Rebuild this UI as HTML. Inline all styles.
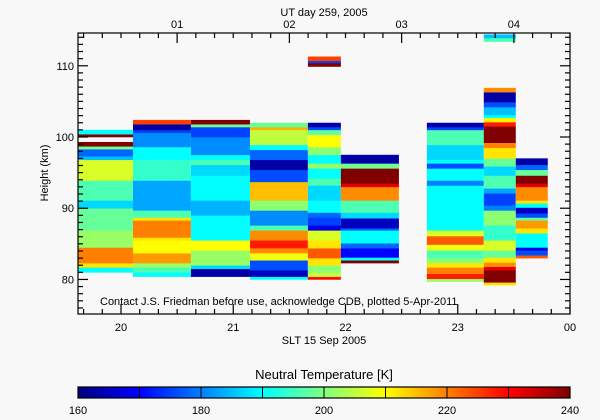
<!DOCTYPE html>
<html><head><meta charset="utf-8"><style>
body{margin:0;background:#f8f8f8;}
svg{display:block;font-family:"Liberation Sans",sans-serif;}
</style></head><body>
<svg id="c" width="600" height="420" viewBox="0 0 600 420">
<rect width="600" height="420" fill="#f8f8f8"/>
</svg>
<script>
// Column time spans (SLT hours)
const colStarts=[19.617,20.107,20.623,21.149,21.665,21.959,22.725,23.232,23.517];
const colEnds=[20.107,20.623,21.149,21.665,21.959,22.476,23.232,23.517,23.802];
// Cells per column: [heightBottom km, heightTop km, temperature K]
const col1=[[81.0,81.7,190],[81.7,82.3,212],[82.3,84.5,220],[84.5,86.9,202],[86.9,90,198],[90,91.1,187],[91.1,93.9,196],[93.9,96.8,207],[96.8,97.3,185],[97.3,98.3,178],[98.3,98.7,199],[98.7,99.3,240],[100.0,100.4,240],[100.4,101.0,190]];
const col2=[[80.4,81.0,190],[81.0,81.7,196],[81.7,82.3,202],[82.3,83.7,218],[83.7,85.5,210],[85.5,85.9,212],[85.9,88.3,220],[88.3,88.7,212],[88.7,89.7,196],[89.7,93.9,183],[93.9,96.8,194],[96.8,98.6,190],[98.6,100.6,181],[100.6,101.0,175],[101.0,101.8,163],[101.8,102.4,225]];
const col3=[[80.4,81.5,163],[81.5,82.0,187],[82.0,84.1,202],[84.1,85.5,210],[85.5,89.0,190],[89.0,91.1,184],[91.1,94.6,190],[94.6,96.1,187],[96.1,96.8,196],[96.8,97.5,190],[97.5,100.0,181],[100.0,101.4,175],[101.4,101.8,199],[101.8,102.4,240]];
const col4=[[80.0,80.4,190],[80.4,81.3,165],[81.3,82.7,176],[82.7,83.7,209],[83.7,84.4,219],[84.4,85.5,228],[85.5,86.9,219],[86.9,87.6,196],[87.6,89.7,181],[89.7,91.1,201],[91.1,93.7,215],[93.7,95.4,176],[95.4,96.8,163],[96.8,98.2,178],[98.2,98.9,190],[98.9,101.0,205],[101.0,101.4,216],[101.4,102.0,198]];
const col5=[[80.0,80.4,229],[80.4,81.0,205],[81.0,82.0,201],[82.0,83.0,212],[83.0,84.4,223],[84.4,85.5,212],[85.5,86.9,207],[86.9,87.6,168],[87.6,88.7,175],[88.7,89.4,178],[89.4,91.1,190],[91.1,93.2,187],[93.2,94.2,196],[94.2,95.6,190],[95.6,96.3,202],[96.3,97.5,190],[97.5,98.6,201],[98.6,100.3,210],[100.3,101.0,198],[101.0,101.4,176],[101.4,102.0,163],[109.9,110.4,240],[110.4,110.7,175],[110.7,111.3,225]];
const col6=[[82.3,82.7,240],[82.7,83.1,190],[83.1,84.4,170],[84.4,85.1,178],[85.1,86.9,190],[86.9,87.2,178],[87.2,88.6,165],[88.6,89.4,187],[89.4,91.1,196],[91.1,93.0,219],[93.0,93.5,232],[93.5,95.6,240],[95.6,96.3,199],[96.3,97.5,163]];
const col7=[[79.7,80.1,202],[80.1,80.8,228],[80.8,81.7,220],[81.7,82.3,212],[82.3,83.0,201],[83.0,84.1,196],[84.1,84.9,209],[84.9,86.1,223],[86.1,86.9,207],[86.9,93.2,190],[93.2,93.9,180],[93.9,95.6,190],[95.6,96.3,176],[96.3,96.8,190],[96.8,98.9,187],[98.9,101.0,196],[101.0,101.4,175],[101.4,102.0,163]];
const col8=[[79.2,79.6,212],[79.6,81.3,240],[81.3,81.8,232],[81.8,82.4,219],[82.4,83.1,212],[83.1,84.1,198],[84.1,85.5,207],[85.5,87.6,194],[87.6,89.7,201],[89.7,90.4,180],[90.4,92.1,175],[92.1,92.8,183],[92.8,94.6,196],[94.6,95.9,187],[95.9,97.0,198],[97.0,98.5,212],[98.5,99.2,220],[99.2,101.5,240],[101.5,102.1,228],[102.1,102.7,211],[102.7,103.1,190],[103.1,104.2,185],[104.2,104.9,176],[104.9,106.3,163],[106.3,106.9,219],[113.4,113.9,196],[113.9,114.4,185]];
const col9=[[83.0,83.4,223],[83.4,84.1,176],[84.1,84.5,168],[84.5,86.5,190],[86.5,87.2,212],[87.2,88.3,218],[88.3,88.7,198],[88.7,89.3,176],[89.3,90.1,165],[90.1,90.7,190],[90.7,91.1,212],[91.1,93.0,219],[93.0,93.5,232],[93.5,94.6,240],[94.6,95.4,198],[95.4,96.1,178],[96.1,97.0,163]];
const columns=[col1,col2,col3,col4,col5,col6,col7,col8,col9];
const yTicks=[80,90,100,110];
const xTickLabels=['20','21','22','23','00'];
const xTickVals=[20,21,22,23,24];
const utTickLabels=['01','02','03','04'];
const utTickVals=[1,2,3,4];
const cbTicks=[160,180,200,220,240];

const X0=78,X1=570,Y0=33,Y1=314;
const xMin=19.617,xMax=24.0,hMin=75.15,hMax=114.6;
const tMin=160,tMax=240;
const sx=v=>X0+(v-xMin)/(xMax-xMin)*(X1-X0);
const sy=h=>Y1-(h-hMin)/(hMax-hMin)*(Y1-Y0);
const utOffset=19.5; // UT = SLT - 19.5 h
function jet(T){
  let t=Math.max(0,Math.min(1,(T-tMin)/(tMax-tMin)));
  const f=x=>Math.max(0,Math.min(1,x));
  const r=f(Math.min(4*t-1.5,-4*t+4.5)),g=f(Math.min(4*t-0.5,-4*t+3.5)),b=f(Math.min(4*t+0.5,-4*t+2.5));
  return `rgb(${Math.round(r*255)},${Math.round(g*255)},${Math.round(b*255)})`;
}
const NS='http://www.w3.org/2000/svg';
const svg=document.getElementById('c');
function mk(tag,at,parent){const e=document.createElementNS(NS,tag);for(const k in at)e.setAttribute(k,at[k]);(parent||svg).appendChild(e);return e;}

const cells=mk('g',{});


columns.forEach((col,i)=>{
  col.forEach(c=>{
    const y=sy(c[1]),h=sy(c[0])-sy(c[1]);
    const r=mk('rect',{x:sx(colStarts[i]).toFixed(2),y:y.toFixed(2),width:(sx(colEnds[i])-sx(colStarts[i])).toFixed(2),height:(h+0.3).toFixed(2),fill:jet(c[2])},cells);
    
    
  });
});

const ax=mk('g',{stroke:'#000','stroke-width':1.2,fill:'none'});


mk('rect',{x:X0,y:Y0,width:X1-X0,height:Y1-Y0},ax);
for(let h=76;h<=114;h++){
  const major=yTicks.includes(h),L=major?10:5,y=sy(h);
  mk('line',{x1:X0,y1:y,x2:X0+L,y2:y},ax);
  mk('line',{x1:X1,y1:y,x2:X1-L,y2:y},ax);
}
for(let m=Math.ceil(xMin*6);m<=xMax*6;m++){
  const v=m/6,major=m%6===0,x=sx(v),L=major?10:5;
  mk('line',{x1:x,y1:Y1,x2:x,y2:Y1-L},ax);
}
for(let m=Math.ceil((xMin-utOffset)*6);m<=(xMax-utOffset)*6;m++){
  const v=m/6+utOffset,major=m%6===0,x=sx(v),L=major?10:5;
  mk('line',{x1:x,y1:Y0,x2:x,y2:Y0+L},ax);
}
function txt(s,x,y,name,anchor,size){
  const t=mk('text',{x:x,y:y,'text-anchor':anchor||'middle','font-size':size||11,fill:'#000'});
  t.textContent=s;
  
  
  return t;
}
yTicks.forEach(h=>txt(String(h),X0-4,sy(h)+4,'y-tick-label','end'));
xTickVals.forEach((v,i)=>txt(xTickLabels[i],sx(v),331,'x-tick-label'));
utTickVals.forEach((v,i)=>txt(utTickLabels[i],sx(v+utOffset),28,'ut-tick-label'));
txt('UT day 259, 2005',324,16,'top-axis-title');
txt('SLT 15 Sep 2005',324,344,'x-axis-title');
const yt=txt('Height (km)',48,173,'y-axis-title','middle',11);
yt.setAttribute('transform','rotate(-90 48 173)');
txt('Contact J.S. Friedman before use, acknowledge CDB, plotted 5-Apr-2011',100,305,'credit-note','start',11);

const CB0=78,CB1=570,CBy=387,CBh=11;
const cb=mk('g',{});


const N=160;
for(let i=0;i<N;i++){
  const T=tMin+(i+0.5)/N*(tMax-tMin);
  mk('rect',{x:(CB0+i*(CB1-CB0)/N).toFixed(2),y:CBy,width:((CB1-CB0)/N+0.4).toFixed(2),height:CBh,fill:jet(T)},cb);
}
mk('rect',{x:CB0,y:CBy,width:CB1-CB0,height:CBh,fill:'none',stroke:'#000','stroke-width':1.2},cb);
const cbx=T=>CB0+(T-tMin)/(tMax-tMin)*(CB1-CB0);
for(let T=tMin+10;T<tMax;T+=10){mk('line',{x1:cbx(T),y1:CBy,x2:cbx(T),y2:CBy+CBh,stroke:'#000','stroke-width':1},cb);}
cbTicks.forEach(T=>txt(String(T),cbx(T),414,'colorbar-tick-label'));
txt('Neutral Temperature [K]',324,379,'colorbar-title','middle',13);
</script>
</body></html>
